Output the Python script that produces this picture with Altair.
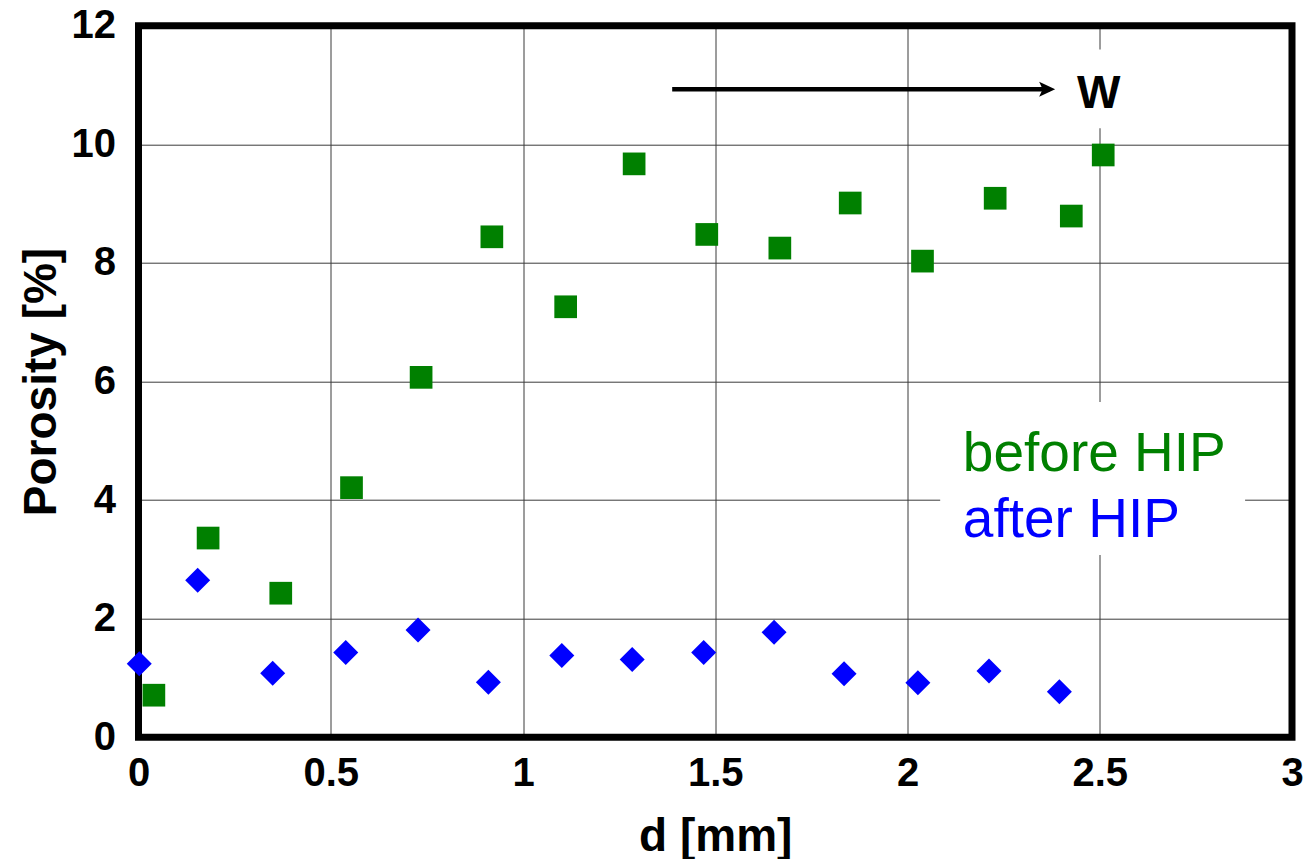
import altair as alt
import pandas as pd

# ---- data ----
series_names = ["before HIP", "after HIP"]
series_colors = ["#008000", "#0000ff"]
series_shapes = ["square", "diamond"]
series_sizes = [515, 625]

before_x = [0.040, 0.181, 0.370, 0.554, 0.735, 0.919, 1.111, 1.289, 1.478, 1.668, 1.851, 2.039, 2.228, 2.426, 2.509]
before_y = [0.71, 3.36, 2.43, 4.21, 6.07, 8.44, 7.26, 9.67, 8.48, 8.25, 9.01, 8.03, 9.09, 8.79, 9.82]

after_x = [0.002, 0.154, 0.349, 0.539, 0.727, 0.910, 1.101, 1.284, 1.470, 1.653, 1.835, 2.027, 2.212, 2.395]
after_y = [1.24, 2.65, 1.08, 1.43, 1.81, 0.93, 1.38, 1.31, 1.43, 1.77, 1.07, 0.92, 1.12, 0.77]

x_ticks = [0, 0.5, 1, 1.5, 2, 2.5, 3]
y_ticks = [0, 2, 4, 6, 8, 10, 12]
x_title = "d [mm]"
y_title = "Porosity [%]"

# annotations (data coordinates)
box_x = [2.085, 2.40]
box_x2 = [2.878, 2.60]
box_y = [5.654, 11.60]
box_y2 = [3.074, 10.27]

arrow_start = [1.388]
arrow_end = [2.37]
arrow_tip = [2.384]
arrow_y = [10.93]

w_label = ["W"]
w_x = [2.441]
w_y = [10.61]

legend_x = [2.144, 2.144]
legend_y = [4.49, 3.38]

FONT = "Liberation Sans, Arial, Helvetica, sans-serif"

# ---- tables ----
points = pd.DataFrame({
    "d": before_x + after_x,
    "p": before_y + after_y,
    "series": [series_names[0]] * len(before_x) + [series_names[1]] * len(after_x),
})
boxes = pd.DataFrame({"x": box_x, "x2": box_x2, "y": box_y, "y2": box_y2})
frame = pd.DataFrame({"x": [x_ticks[0]], "x2": [x_ticks[-1]], "y": [y_ticks[0]], "y2": [y_ticks[-1]]})
arrow = pd.DataFrame({"x": arrow_start, "x2": arrow_end, "tip": arrow_tip, "y": arrow_y})
wtxt = pd.DataFrame({"x": w_x, "y": w_y, "t": w_label})
leg_before = pd.DataFrame({"x": legend_x[:1], "y": legend_y[:1], "t": series_names[:1]})
leg_after = pd.DataFrame({"x": legend_x[1:], "y": legend_y[1:], "t": series_names[1:]})

x_scale = alt.Scale(domain=[x_ticks[0], x_ticks[-1]], nice=False, zero=False)
y_scale = alt.Scale(domain=[y_ticks[0], y_ticks[-1]], nice=False, zero=False)

x_axis = alt.Axis(
    values=x_ticks, format="~g", title=x_title, grid=True, domain=False, ticks=False,
    labelFontSize=40, labelFontWeight="bold", labelFont=FONT, labelColor="black",
    labelPadding=16, labelFlush=False, labelOverlap=False,
    titleFontSize=46, titleFontWeight="bold", titleFont=FONT, titleColor="black",
    titleY=112.7, titleBaseline="alphabetic",
    gridColor="#3a3a3a", gridWidth=1,
)
y_axis = alt.Axis(
    values=y_ticks, format="~g", title=y_title, grid=True, domain=False, ticks=False,
    labelFontSize=40, labelFontWeight="bold", labelFont=FONT, labelColor="black",
    labelPadding=23, labelFlush=False, labelOverlap=False,
    titleFontSize=46, titleFontWeight="bold", titleFont=FONT, titleColor="black",
    titleX=-83.5, titleBaseline="alphabetic", titleAngle=270,
    gridColor="#3a3a3a", gridWidth=1,
)


def X(field):
    return alt.X(field, type="quantitative", scale=x_scale, axis=x_axis)


def Y(field):
    return alt.Y(field, type="quantitative", scale=y_scale, axis=y_axis)


box_layer = alt.Chart(boxes).mark_rect(color="white", opacity=1).encode(
    x=X("x"), x2="x2", y=Y("y"), y2="y2"
)

frame_layer = alt.Chart(frame).mark_rect(
    filled=False, fillOpacity=0, stroke="black", strokeWidth=7, strokeOpacity=1
).encode(x=X("x"), x2="x2", y=Y("y"), y2="y2")

arrow_line = alt.Chart(arrow).mark_rule(color="black", strokeWidth=4.5).encode(
    x=X("x"), x2="x2", y=Y("y")
)

arrow_head = alt.Chart(arrow).mark_point(
    shape="M0,0L-1,-0.47L-0.78,0L-1,0.47Z", filled=True, size=1024,
    color="black", opacity=1, strokeWidth=0
).encode(x=X("tip"), y=Y("y"))

w_layer = alt.Chart(wtxt).mark_text(
    align="left", baseline="alphabetic", font=FONT, fontSize=46, fontWeight="bold", color="black"
).encode(x=X("x"), y=Y("y"), text="t")

leg1 = alt.Chart(leg_before).mark_text(
    align="left", baseline="alphabetic", font=FONT, fontSize=55, color=series_colors[0]
).encode(x=X("x"), y=Y("y"), text="t")

leg2 = alt.Chart(leg_after).mark_text(
    align="left", baseline="alphabetic", font=FONT, fontSize=55, color=series_colors[1]
).encode(x=X("x"), y=Y("y"), text="t")

pts = alt.Chart(points).mark_point(filled=True, opacity=1, strokeWidth=0).encode(
    x=X("d"),
    y=Y("p"),
    color=alt.Color("series:N", scale=alt.Scale(domain=series_names, range=series_colors), legend=None),
    shape=alt.Shape("series:N", scale=alt.Scale(domain=series_names, range=series_shapes), legend=None),
    size=alt.Size("series:N", scale=alt.Scale(domain=series_names, range=series_sizes), legend=None),
)

chart = alt.layer(box_layer, frame_layer, arrow_line, arrow_head, w_layer, leg1, leg2, pts).properties(
    width=1153.5,
    height=711.6,
    autosize=alt.AutoSizeParams(type="none"),
    padding={"left": 138.5, "top": 25.7, "right": 17, "bottom": 121.7},
    background="white",
).configure_view(strokeWidth=0)

chart.save("out.html", embed_options={"renderer": "svg", "actions": False})
